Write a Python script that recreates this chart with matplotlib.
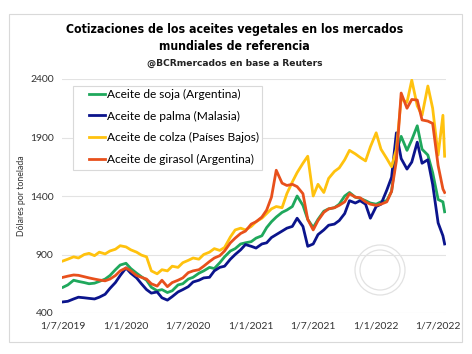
import matplotlib
matplotlib.use("Agg")
import matplotlib.pyplot as plt
import matplotlib.dates as mdates
from matplotlib.patches import Rectangle, Circle
from matplotlib.transforms import IdentityTransform
import pandas as pd

# half-monthly readings, 1/7/2019 .. 20/7/2022
dates = list(pd.date_range("2019-07-01", "2022-07-15", freq="SMS")) + [pd.Timestamp("2022-07-20")]

soja = [620, 640, 680, 670, 660, 650, 655, 670, 690, 720, 770, 810,
        825, 780, 740, 710, 680, 620, 590, 600, 575, 590, 640, 650,
        690, 705, 740, 760, 790, 780, 830, 880, 930, 950, 990, 1000,
        1010, 1040, 1060, 1130, 1180, 1220, 1260, 1280, 1310, 1400, 1320, 1200,
        1130, 1200, 1270, 1290, 1300, 1330, 1400, 1430, 1390, 1380, 1360, 1340,
        1330, 1350, 1360, 1440, 1780, 1910, 1790, 1880, 2000, 1800, 1750, 1600,
        1370, 1350, 1265]

palma = [495, 500, 520, 535, 530, 525, 520, 535, 560, 610, 660, 720,
         785, 740, 700, 650, 600, 570, 580, 530, 510, 540, 580, 600,
         625, 665, 680, 700, 705, 760, 790, 800, 860, 900, 940, 985,
         970, 955, 990, 1000, 1045, 1070, 1100, 1125, 1140, 1210, 1140, 970,
         990, 1070, 1110, 1150, 1160, 1190, 1250, 1360, 1340, 1360, 1330, 1210,
         1310, 1330, 1450, 1560, 1940, 1720, 1630, 1690, 1860, 1680, 1710, 1500,
         1170, 1060, 990]

colza = [845, 860, 880, 870, 900, 910, 890, 920, 905, 930, 945, 975,
         965, 940, 920, 895, 880, 760, 735, 770, 760, 800, 790, 830,
         850, 870, 860, 900, 920, 950, 935, 960, 1050, 1110, 1125, 1110,
         1140, 1180, 1210, 1250, 1290, 1310, 1300, 1420, 1520, 1600, 1680, 1740,
         1400, 1500, 1430, 1550, 1610, 1640, 1710, 1790, 1760, 1730, 1700, 1820,
         1940, 1800, 1720, 1650, 1800, 2230, 2200, 2390, 2170, 2090, 2340, 2150,
         1750, 2090, 1740]

girasol = [705, 715, 725, 722, 710, 700, 690, 682, 675, 690, 720, 760,
           785, 760, 720, 705, 690, 650, 630, 680, 625, 660, 680, 700,
           745, 760, 770, 800, 840, 870, 890, 930, 1000, 1040, 1080, 1100,
           1160, 1180, 1220, 1280, 1390, 1620, 1510, 1490, 1500, 1480, 1420, 1200,
           1110, 1190, 1260, 1290, 1300, 1320, 1350, 1420, 1390, 1385, 1350, 1330,
           1320, 1330, 1350, 1440, 1700, 2280, 2150, 2225, 2220, 2050, 2040, 2020,
           1660, 1460, 1430]

series = [
    ("Aceite de soja (Argentina)", soja, "#1FA85C"),
    ("Aceite de palma (Malasia)", palma, "#0B148C"),
    ("Aceite de colza (Países Bajos)", colza, "#FFC20E"),
    ("Aceite de girasol (Argentina)", girasol, "#E8501C"),
]

yticks = [400, 900, 1400, 1900, 2400]
xticks = ["2019-07-01", "2020-01-01", "2020-07-01", "2021-01-01",
          "2021-07-01", "2022-01-01", "2022-07-01"]

W, H = 472, 354
fig = plt.figure(figsize=(W / 100, H / 100), dpi=100)
fig.patch.set_facecolor("white")

# outer frame
fig.patches.append(Rectangle((9 / W, 1 - 342 / H), 453 / W, 328 / H,
                             transform=fig.transFigure, fill=False,
                             edgecolor="#d9d9d9", linewidth=0.8))

# faint seal watermark (pixel coords)
for r in (25, 20):
    fig.patches.append(Circle((380, H - 270), r, transform=IdentityTransform(),
                              fill=False, edgecolor="#e2e2e2", linewidth=0.9))

title_font = ["Liberation Sans Narrow", "DejaVu Sans"]
fig.text(0.497, 1 - 29 / H, "Cotizaciones de los aceites vegetales en los mercados",
         ha="center", va="center", fontsize=8.8, fontweight="bold",
         family=title_font, stretch="condensed")
fig.text(0.497, 1 - 47 / H, "mundiales de referencia",
         ha="center", va="center", fontsize=8.8, fontweight="bold",
         family=title_font, stretch="condensed")
fig.text(0.497, 1 - 63 / H, "@BCRmercados en base a Reuters",
         ha="center", va="center", fontsize=6.6, fontweight="bold",
         family=title_font, color="#222222")

ax = fig.add_axes([62 / W, 1 - 313 / H, 384 / W, 234 / H])
ax.patch.set_alpha(0)

for label, vals, col in series:
    ax.plot(dates, vals, color=col, linewidth=2.0, label=label)

ax.set_ylim(400, 2400)
ax.set_xlim(pd.Timestamp("2019-06-28"), pd.Timestamp("2022-07-24"))
ax.set_yticks(yticks)
ax.set_xticks([pd.Timestamp(d) for d in xticks])
ax.xaxis.set_major_formatter(
    matplotlib.ticker.FuncFormatter(
        lambda v, p: "{d.day}/{d.month}/{d.year}".format(d=mdates.num2date(v))))
ax.grid(axis="y", color="#e3e3e3", linewidth=0.8)
ax.set_axisbelow(True)
for s in ax.spines.values():
    s.set_visible(False)
ax.tick_params(length=0, labelsize=7.5, colors="#333333", pad=6)
for t in ax.get_xticklabels() + ax.get_yticklabels():
    t.set_family(["Lato", "DejaVu Sans"])
ax.set_ylabel("Dólares por tonelada", fontsize=6.3, color="#333333",
              family=["Lato", "DejaVu Sans"])
ax.yaxis.set_label_coords(-0.095, 0.5)

# legend box drawn separately so the padding matches
ax.add_patch(Rectangle((0.029, 0.611), 0.492, 0.359, transform=ax.transAxes,
                       facecolor="white", edgecolor="#d9d9d9", linewidth=0.8,
                       zorder=4))
leg = ax.legend(loc="upper left", bbox_to_anchor=(0.071, 0.958), frameon=False,
                borderaxespad=0, borderpad=0, handlelength=1.3,
                handletextpad=0.15, labelspacing=0.9,
                prop={"family": ["Lato", "DejaVu Sans"], "size": 8.6})
leg.set_zorder(5)

fig.savefig("out.png", dpi=100)
